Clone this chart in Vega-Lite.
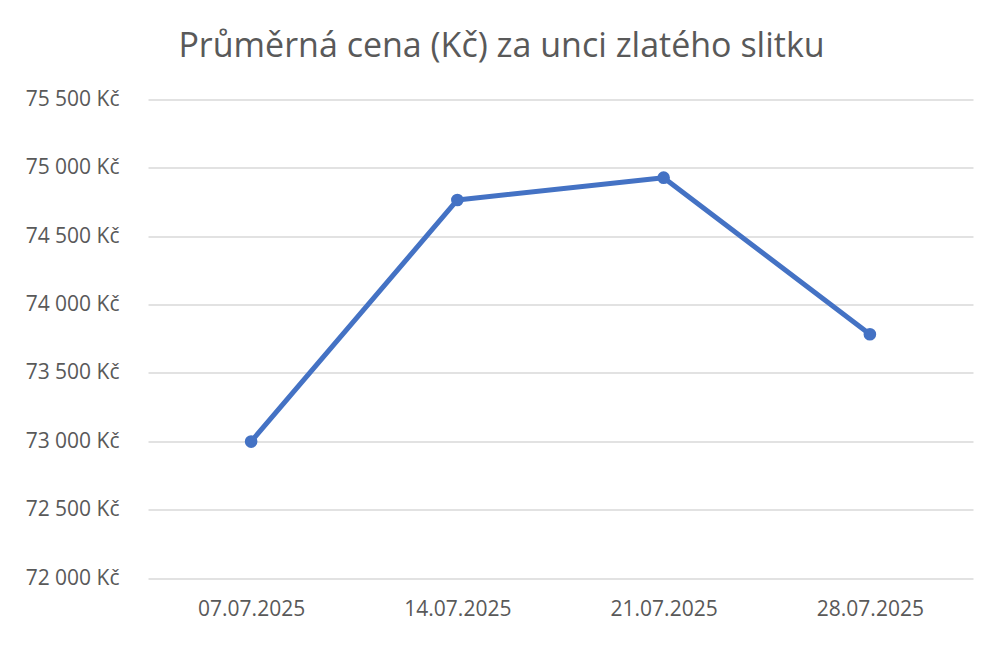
{
  "$schema": "https://vega.github.io/schema/vega-lite/v6.json",
  "autosize": "none",
  "width": 825,
  "height": 478.5,
  "padding": {"left": 148, "top": 99.5, "right": 27, "bottom": 67},
  "background": "white",
  "title": {
    "text": "Průměrná cena (Kč) za unci zlatého slitku",
    "font": "Open Sans",
    "fontSize": 34,
    "fontWeight": "normal",
    "color": "#595959",
    "anchor": "middle",
    "dx": -59,
    "offset": 25
  },
  "data": {
    "values": [
      {"datum": "07.07.2025", "cena": 72998},
      {"datum": "14.07.2025", "cena": 74765},
      {"datum": "21.07.2025", "cena": 74928},
      {"datum": "28.07.2025", "cena": 73783}
    ]
  },
  "encoding": {
    "x": {
      "field": "datum",
      "type": "ordinal",
      "sort": null,
      "scale": {"type": "point", "padding": 0.5},
      "axis": {
        "title": null,
        "labelAngle": 0,
        "labelFont": "Open Sans",
        "labelFontSize": 21,
        "labelColor": "#595959",
        "labelPadding": 20,
        "domain": false,
        "ticks": false,
        "grid": false
      }
    },
    "y": {
      "field": "cena",
      "type": "quantitative",
      "scale": {"domain": [72000, 75500], "nice": false, "zero": false},
      "axis": {
        "title": null,
        "values": [72000, 72500, 73000, 73500, 74000, 74500, 75000, 75500],
        "labelExpr": "replace(format(datum.value, ','), ',', ' ') + ' Kč'",
        "labelFont": "Open Sans",
        "labelFontSize": 21,
        "labelColor": "#595959",
        "labelPadding": 29,
        "domain": false,
        "ticks": false,
        "grid": true,
        "gridColor": "#d9d9d9",
        "gridWidth": 1.3
      }
    }
  },
  "layer": [
    {"mark": {"type": "line", "color": "#4472C4", "strokeWidth": 5, "strokeCap": "round", "strokeJoin": "round"}},
    {"mark": {"type": "point", "filled": true, "color": "#4472C4", "size": 160, "opacity": 1}}
  ],
  "config": {"view": {"stroke": null}}
}
